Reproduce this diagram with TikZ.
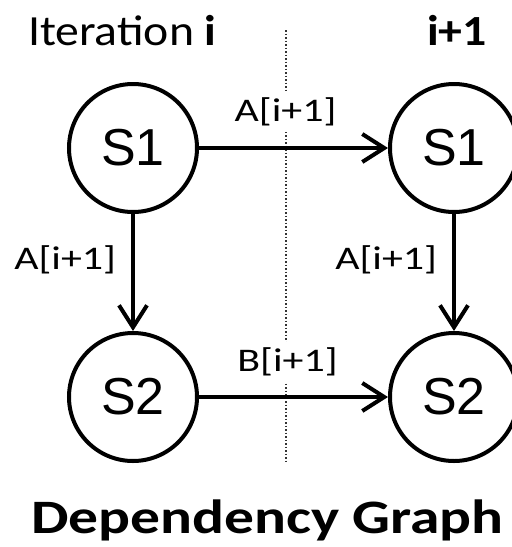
\documentclass[tikz,border=0pt]{standalone}
\usepackage{fontspec}
\setmainfont{Carlito}
\newfontfamily\arialfont{Liberation Sans}
\newfontfamily\headfont[FakeStretch=1.11]{Carlito}
\newfontfamily\widefont[FakeStretch=1.27]{Carlito}
\newfontfamily\graphfont[FakeStretch=1.24]{Carlito}
\usetikzlibrary{positioning,arrows.meta}
\tikzset{main node/.style={circle, draw, line width=4pt, minimum size=128pt, inner sep=0pt, font=\arialfont\fontsize{52}{52}\selectfont},
dep label/.style={fill=white, inner sep=6pt, font=\widefont\fontsize{33}{33}\selectfont},
title text/.style={anchor=base west, inner sep=0pt, font=\headfont\fontsize{43}{43}\selectfont},}

\begin{document}
\begin{tikzpicture}[-{Straight Barb[length=22pt,width=28pt]}, line width=4pt]
        \useasboundingbox (0,0) rectangle (512pt,-547pt);
        % Separator
        \coordinate (top) at (286pt,-30pt);
        \coordinate (bottom) at (286pt,-462pt);
        \draw[-, dotted, line width=1.5pt, black!80] (top) -- (bottom);
        % Nodes
        \node[main node] (1) at (133pt,-148pt) {S1};
        \node[main node] [right = 189pt of 1] (3) {S1};
        \node[main node] [below = 117pt of 1] (2) {S2};
        \node[main node] [below = 117pt of 3] (4) {S2};
        % Titles
        \node[title text] (iter) at (26pt,-45pt) {Iteration \textbf{i}};
        \node[title text] (next) at (425pt,-45pt) {\textbf{i+1}};
        \node[title text, font=\graphfont\bfseries\fontsize{48}{48}\selectfont] (graph) at (29pt,-533pt) {Dependency Graph};
        % Paths
        \path[draw]
        (1) edge node[dep label, above=14pt, xshift=-8pt] {A[i+1]} (3)
        (2) edge node[dep label, above=13pt, xshift=-6pt] {B[i+1]} (4)
        (1) edge node[dep label, left=9pt, yshift=13pt] {A[i+1]} (2)
        (3) edge node[dep label, left=9pt, yshift=13pt] {A[i+1]} (4);
    \end{tikzpicture}
\end{document}
